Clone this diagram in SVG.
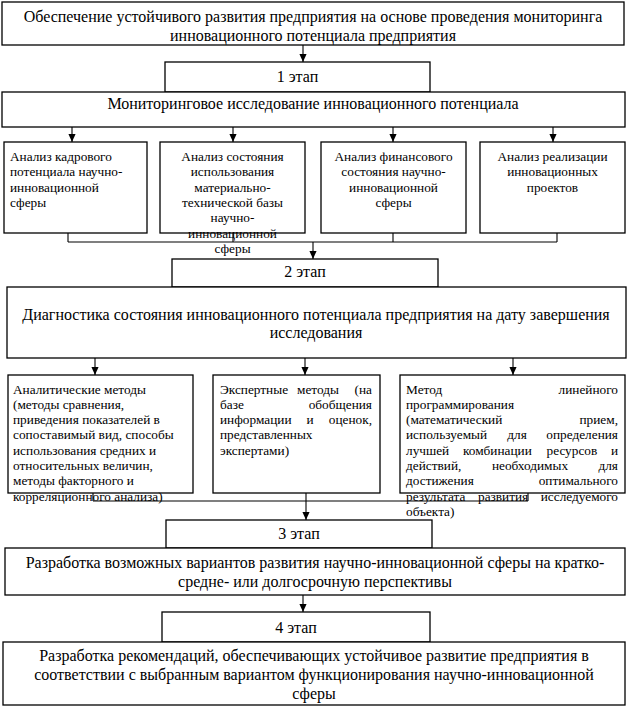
<svg xmlns="http://www.w3.org/2000/svg" width="629" height="708" viewBox="0 0 629 708">
<style>
  .box{fill:#fff;stroke:#000;stroke-width:1.3}
  .big{font-family:"Liberation Serif","DejaVu Serif",serif;font-size:16px;fill:#000}
  .sm{font-family:"Liberation Serif","DejaVu Serif",serif;font-size:13.3px;fill:#000}
  .c{text-anchor:middle}
  .e{text-anchor:end}
  .ln{fill:none;stroke:#000;stroke-width:1.1}
</style>
<defs>
  <marker id="arr" markerUnits="userSpaceOnUse" markerWidth="8" markerHeight="9" refX="9" refY="4" orient="auto" viewBox="0 0 9 8">
    <path d="M0,0 L9,4 L0,8 Z" fill="#000"/>
  </marker>
</defs>

<g id="connectors">
  <line class="ln" x1="303" y1="45" x2="303" y2="62" marker-end="url(#arr)"/>
  <line class="ln" x1="72" y1="127" x2="72" y2="142" marker-end="url(#arr)"/>
  <line class="ln" x1="233" y1="127" x2="233" y2="142" marker-end="url(#arr)"/>
  <line class="ln" x1="393" y1="127" x2="393" y2="142" marker-end="url(#arr)"/>
  <line class="ln" x1="553" y1="127" x2="553" y2="142" marker-end="url(#arr)"/>
  <path class="ln" d="M68,233 V242 M233,233 V242 M393,233 V242 M557,233 V242 M68,242 H557"/>
  <line class="ln" x1="313" y1="242" x2="313" y2="259" marker-end="url(#arr)"/>
  <line class="ln" x1="95" y1="358" x2="95" y2="375" marker-end="url(#arr)"/>
  <line class="ln" x1="305" y1="358" x2="305" y2="375" marker-end="url(#arr)"/>
  <line class="ln" x1="513" y1="358" x2="513" y2="375" marker-end="url(#arr)"/>
  <path class="ln" d="M93,493 V501 M306,493 V501 M528,493 V501 M93,501 H528"/>
  <line class="ln" x1="306" y1="501" x2="306" y2="520" marker-end="url(#arr)"/>
  <line class="ln" x1="303" y1="595" x2="303" y2="612" marker-end="url(#arr)"/>
</g>

<g id="goal">
  <rect class="box" x="2" y="2" width="622" height="43"/>
  <text class="big c" x="313" y="22">Обеспечение устойчивого развития предприятия на основе проведения мониторинга</text>
  <text class="big c" x="313" y="41">инновационного потенциала предприятия</text>
</g>

<g id="stage1">
  <rect class="box" x="165" y="62" width="265" height="30"/>
  <text class="big c" x="297.5" y="82">1 этап</text>
</g>

<g id="monitoring">
  <rect class="box" x="2" y="92" width="623" height="35"/>
  <text class="big c" x="313" y="109">Мониторинговое исследование инновационного потенциала</text>
</g>

<g id="a1">
  <rect class="box" x="4" y="142" width="143" height="91"/>
  <text class="sm" x="10" y="161">Анализ кадрового</text>
  <text class="sm" x="10" y="176.3">потенциала научно-</text>
  <text class="sm" x="10" y="191.6">инновационной</text>
  <text class="sm" x="10" y="206.9">сферы</text>
</g>

<g id="a2">
  <rect class="box" x="160" y="142" width="145" height="91"/>
  <text class="sm c" x="232.5" y="161">Анализ состояния</text>
  <text class="sm c" x="232.5" y="176.3">использования</text>
  <text class="sm c" x="232.5" y="191.6">материально-</text>
  <text class="sm c" x="232.5" y="206.9">технической базы</text>
  <text class="sm c" x="232.5" y="222.2">научно-</text>
  <text class="sm c" x="232.5" y="237.5">инновационной</text>
  <text class="sm c" x="232.5" y="252.8">сферы</text>
</g>

<g id="a3">
  <rect class="box" x="321" y="142" width="145" height="91"/>
  <text class="sm c" x="393.5" y="161">Анализ финансового</text>
  <text class="sm c" x="393.5" y="176.3">состояния научно-</text>
  <text class="sm c" x="393.5" y="191.6">инновационной</text>
  <text class="sm c" x="393.5" y="206.9">сферы</text>
</g>

<g id="a4">
  <rect class="box" x="480" y="142" width="145" height="91"/>
  <text class="sm c" x="552.5" y="161">Анализ реализации</text>
  <text class="sm c" x="552.5" y="176.3">инновационных</text>
  <text class="sm c" x="552.5" y="191.6">проектов</text>
</g>

<g id="stage2">
  <rect class="box" x="172" y="259" width="266" height="28"/>
  <text class="big c" x="305" y="277">2 этап</text>
</g>

<g id="diagnostics">
  <rect class="box" x="7" y="287" width="619" height="71"/>
  <text class="big c" x="316" y="320">Диагностика состояния инновационного потенциала предприятия на дату завершения</text>
  <text class="big c" x="316" y="338">исследования</text>
</g>

<g id="m1">
  <rect class="box" x="8" y="375" width="185" height="118"/>
  <text class="sm" x="13" y="393.5">Аналитические методы</text>
  <text class="sm" x="13" y="408.8">(методы сравнения,</text>
  <text class="sm" x="13" y="424.1">приведения показателей в</text>
  <text class="sm" x="13" y="439.4">сопоставимый вид, способы</text>
  <text class="sm" x="13" y="454.7">использования средних и</text>
  <text class="sm" x="13" y="470">относительных величин,</text>
  <text class="sm" x="13" y="485.3">методы факторного и</text>
  <text class="sm" x="13" y="500.6">корреляционного анализа)</text>
</g>

<g id="m2">
  <rect class="box" x="213" y="375" width="167" height="118"/>
  <text class="sm" x="220" y="393.5">Экспертные</text>
  <text class="sm c" x="318" y="393.5">методы</text>
  <text class="sm e" x="372" y="393.5">(на</text>
  <text class="sm" x="220" y="408.8">базе</text>
  <text class="sm e" x="372" y="408.8">обобщения</text>
  <text class="sm" x="220" y="424.1">информации</text>
  <text class="sm c" x="310" y="424.1">и</text>
  <text class="sm e" x="372" y="424.1">оценок,</text>
  <text class="sm" x="220" y="439.4">представленных</text>
  <text class="sm" x="220" y="454.7">экспертами)</text>
</g>

<g id="m3">
  <rect class="box" x="400" y="375" width="225" height="118"/>
  <text class="sm" x="406" y="393.5">Метод</text>
  <text class="sm e" x="618" y="393.5">линейного</text>
  <text class="sm" x="406" y="408.8">программирования</text>
  <text class="sm" x="406" y="424.1">(математический</text>
  <text class="sm e" x="618" y="424.1">прием,</text>
  <text class="sm" x="406" y="439.4">используемый</text>
  <text class="sm c" x="517" y="439.4">для</text>
  <text class="sm e" x="618" y="439.4">определения</text>
  <text class="sm" x="406" y="454.7">лучшей</text>
  <text class="sm" x="463" y="454.7">комбинации</text>
  <text class="sm" x="546.5" y="454.7">ресурсов</text>
  <text class="sm e" x="618" y="454.7">и</text>
  <text class="sm" x="406" y="470">действий,</text>
  <text class="sm c" x="530" y="470">необходимых</text>
  <text class="sm e" x="618" y="470">для</text>
  <text class="sm" x="406" y="485.3">достижения</text>
  <text class="sm e" x="618" y="485.3">оптимального</text>
  <text class="sm" x="406" y="500.6">результата</text>
  <text class="sm" x="478" y="500.6">развития</text>
  <text class="sm e" x="618" y="500.6">исследуемого</text>
  <text class="sm" x="406" y="515.9">объекта)</text>
</g>

<g id="stage3">
  <rect class="box" x="166" y="520" width="266" height="28"/>
  <text class="big c" x="299" y="539">3 этап</text>
</g>

<g id="variants">
  <rect class="box" x="5" y="548" width="620" height="47"/>
  <text class="big c" x="315" y="568">Разработка возможных вариантов развития научно-инновационной сферы на кратко-</text>
  <text class="big c" x="315" y="587">средне- или долгосрочную перспективы</text>
</g>

<g id="stage4">
  <rect class="box" x="162" y="612" width="268" height="30"/>
  <text class="big c" x="296" y="633">4 этап</text>
</g>

<g id="recommendations">
  <rect class="box" x="3" y="642" width="622" height="63"/>
  <text class="big c" x="314" y="661">Разработка рекомендаций, обеспечивающих устойчивое развитие предприятия в</text>
  <text class="big c" x="314" y="680">соответствии с выбранным вариантом функционирования научно-инновационной</text>
  <text class="big c" x="314" y="699">сферы</text>
</g>
</svg>
